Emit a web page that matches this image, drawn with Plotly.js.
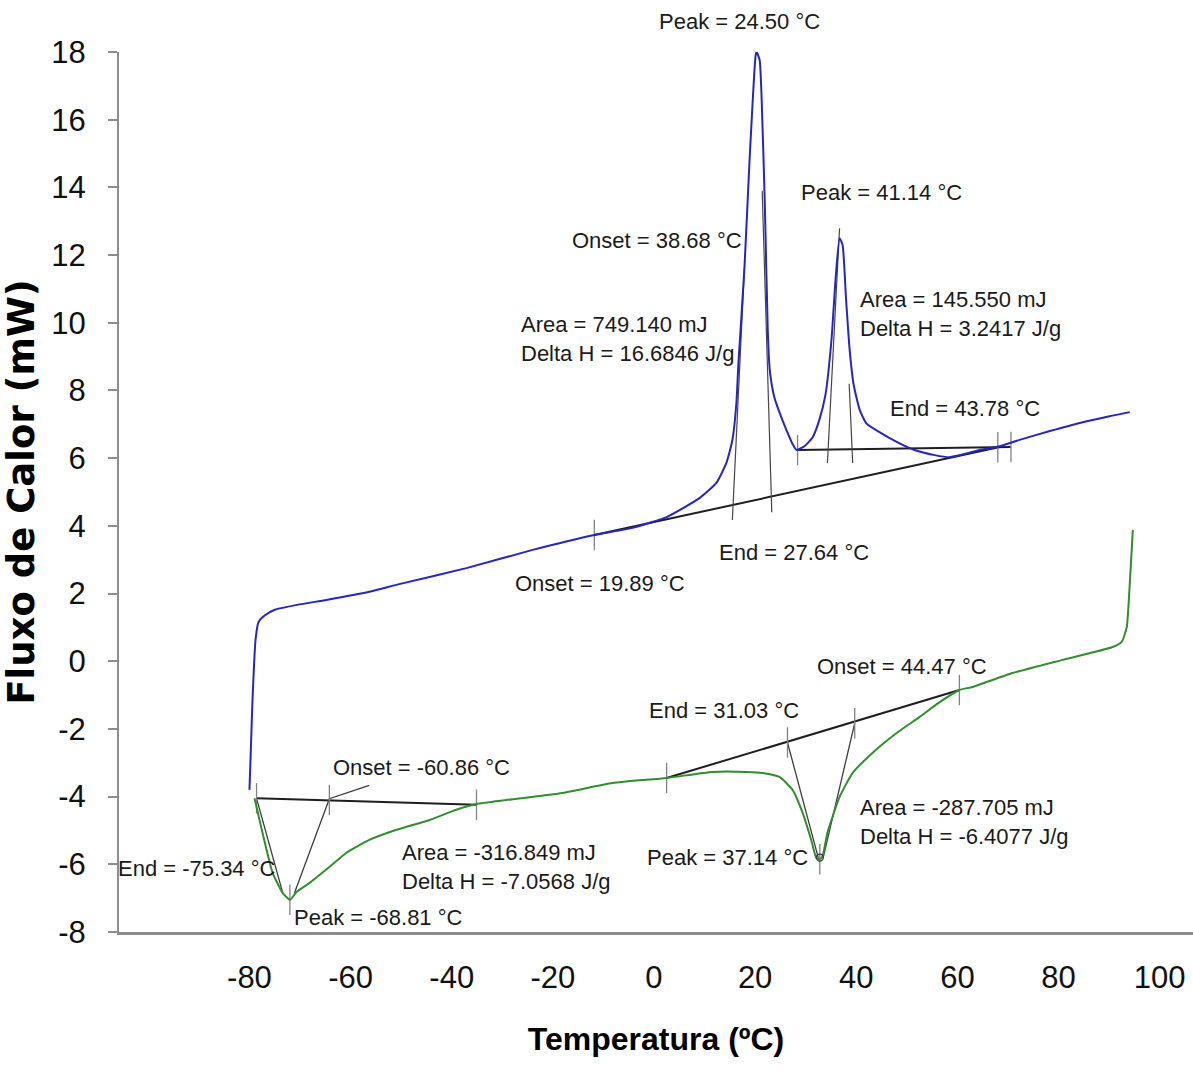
<!DOCTYPE html>
<html>
<head>
<meta charset="utf-8">
<script src="https://cdn.plot.ly/plotly-3.0.1.min.js"></script>
<style>
  html, body { margin: 0; padding: 0; background: #fff; }
  #chart { width: 1193px; height: 1082px; }
</style>
</head>
<body>
<div id="chart"></div>
<script>
// ---------- Data ----------
// Heating curve (blue)
const blueT  = [-80.0, -79.8, -79.4, -78.8, -78.2, -77.0, -75.0, -70.1, -64.8, -56.3, -50.6, -37.1, -24.0, -11.8, -4.2, 2.5, 9.0, 12.3, 14.3, 15.5, 16.3, 16.7, 17.9, 18.9, 20.1, 20.3, 20.9, 21.3, 21.9, 22.5, 22.9, 23.8, 24.8, 26.2, 27.4, 28.2, 29.8, 31.4, 32.7, 33.9, 35.1, 35.9, 36.7, 37.3, 38.0, 38.7, 39.5, 40.7, 42.0, 44.6, 48.0, 51.5, 55.5, 58.5, 61.4, 64.4, 68.4, 72.3, 78.3, 84.2, 90.1, 94.1];
const blueHF = [-3.80, -2.94, -1.16, 0.63, 1.16, 1.35, 1.52, 1.68, 1.81, 2.05, 2.27, 2.75, 3.29, 3.73, 3.94, 4.26, 4.82, 5.26, 5.85, 6.53, 7.63, 8.80, 11.64, 14.80, 17.90, 18.00, 17.76, 16.58, 13.63, 9.78, 8.60, 7.80, 7.36, 6.83, 6.42, 6.24, 6.36, 6.62, 7.13, 7.86, 9.49, 11.26, 12.50, 12.30, 10.66, 9.20, 8.16, 7.42, 7.03, 6.77, 6.48, 6.24, 6.09, 6.03, 6.12, 6.24, 6.35, 6.54, 6.80, 7.04, 7.24, 7.36];

// Cooling curve (green)
const greenT  = [-79.0, -77.4, -75.4, -73.4, -72.0, -70.7, -68.1, -64.2, -60.8, -56.3, -50.9, -44.4, -39.1, -35.1, -29.2, -18.1, -8.2, 2.5, 11.5, 18.3, 21.5, 24.8, 27.4, 29.4, 31.1, 32.1, 32.8, 33.3, 34.3, 36.7, 39.3, 43.2, 48.0, 52.5, 56.5, 60.4, 63.0, 70.9, 80.8, 90.7, 92.5, 93.5, 94.1, 94.7];
const greenHF = [-4.05, -5.08, -6.26, -6.85, -7.05, -6.82, -6.55, -6.08, -5.66, -5.28, -4.98, -4.69, -4.39, -4.22, -4.10, -3.89, -3.60, -3.45, -3.27, -3.27, -3.30, -3.42, -3.80, -4.48, -5.28, -5.81, -5.85, -5.78, -5.07, -4.01, -3.30, -2.71, -2.12, -1.65, -1.21, -0.85, -0.76, -0.35, 0.04, 0.42, 0.57, 1.01, 2.31, 3.88];

// Construction lines (black) — baselines, tangents and partial-area lines
const blueBaseT  = [-11.8, 68.4, null, 28.4, 70.6];
const blueBaseHF = [3.73, 6.33, null, 6.24, 6.33];
const bluePartT  = [15.5, 17.9, null, 23.3, 21.4, null, 34.3, 36.7, null, 39.3, 38.6];
const bluePartHF = [4.17, 11.64, null, 4.40, 13.90, null, 5.86, 12.79, null, 5.86, 8.20];

const greenBaseT  = [-78.6, -35.1, null, 2.5, 60.4];
const greenBaseHF = [-4.05, -4.24, null, -3.45, -0.85];
const greenTanT   = [-78.6, -73.4, null, -71.1, -64.2, -56.3, null, 26.4, 32.5, null, 39.7, 33.5];
const greenTanHF  = [-4.05, -6.85, null, -6.85, -4.06, -3.67, null, -2.40, -5.81, null, -1.83, -5.78];

// Small vertical marker ticks on the construction lines
const tickT  = [-11.8, 28.4, 68.0, 70.6, -78.6, -64.2, -35.1, -72.0, 2.5, 26.4, 39.7, 60.4, 32.8];
const tickHF = [3.73, 6.24, 6.32, 6.33, -4.05, -4.10, -4.24, -7.05, -3.45, -2.40, -1.83, -0.85, -5.85];

// Peak marker (green minimum)
const peakMarkT = [32.8];
const peakMarkHF = [-5.80];

// Text labels
const labelText = [
  "Peak = 24.50 °C", "Peak = 41.14 °C", "Onset = 38.68 °C",
  "Area = 145.550 mJ<br>Delta H = 3.2417 J/g",
  "Area = 749.140 mJ<br>Delta H = 16.6846 J/g",
  "End = 43.78 °C", "End = 27.64 °C", "Onset = 19.89 °C",
  "Onset = 44.47 °C", "End = 31.03 °C", "Onset = -60.86 °C",
  "Area = -316.849 mJ<br>Delta H = -7.0568 J/g",
  "Area = -287.705 mJ<br>Delta H = -6.4077 J/g",
  "Peak = 37.14 °C", "End = -75.34 °C", "Peak = -68.81 °C"
];
const labelT  = [16.9, 45.0, 0.5, 40.3, -26.6, 61.6, 27.6, -10.6, 49.1, 13.8, -46.0, -50.3, 40.3, 14.5, -90.4, -54.4];
const labelHF = [18.89, 13.86, 12.44, 10.25, 9.52, 7.47, 3.20, 2.31, -0.15, -1.47, -3.15, -6.08, -4.75, -5.81, -6.11, -7.58];
const labelAlign = ["center","center","center","left","left","center","center","center","center","center","center","left","left","center","center","center"];

const xTicks = [-80, -60, -40, -20, 0, 20, 40, 60, 80, 100];
const yTicks = [-8, -6, -4, -2, 0, 2, 4, 6, 8, 10, 12, 14, 16, 18];
const yRange = [-8, 18];

// ---------- Build traces ----------
const TICK_HALF = 0.45;
const tickSegT = [], tickSegHF = [];
tickT.forEach((t, i) => {
  tickSegT.push(t, t, null);
  tickSegHF.push(tickHF[i] - TICK_HALF, tickHF[i] + TICK_HALF, null);
});

const BLUE = "rgb(38,38,190)";
const GREEN = "rgb(52,140,48)";
const BLACK = "rgb(30,30,30)";

const traces = [
  { x: blueBaseT, y: blueBaseHF, mode: "lines", line: {color: BLACK, width: 2}, hoverinfo: "skip" },
  { x: bluePartT, y: bluePartHF, mode: "lines", line: {color: "rgb(70,70,70)", width: 1.2}, hoverinfo: "skip" },
  { x: greenBaseT, y: greenBaseHF, mode: "lines", line: {color: BLACK, width: 2}, hoverinfo: "skip" },
  { x: greenTanT, y: greenTanHF, mode: "lines", line: {color: "rgb(60,60,60)", width: 1.3}, hoverinfo: "skip" },
  { x: tickSegT, y: tickSegHF, mode: "lines", line: {color: "rgb(130,130,130)", width: 1.3}, hoverinfo: "skip" },
  { x: blueT, y: blueHF, mode: "lines", name: "Aquecimento", line: {color: BLUE, width: 2, shape: "spline", smoothing: 0.5}, cliponaxis: false },
  { x: greenT, y: greenHF, mode: "lines", name: "Resfriamento", line: {color: GREEN, width: 2, shape: "spline", smoothing: 0.5}, cliponaxis: false },
  { x: peakMarkT, y: peakMarkHF, mode: "markers", marker: {symbol: "circle-open", size: 7, color: "rgb(60,60,60)", line: {width: 1.3}}, hoverinfo: "skip" }
];

const FONT = "'Liberation Sans', Arial, sans-serif";
const annFont = {family: FONT, size: 22, color: "#1a1a1a"};
const annotations = labelText.map((txt, i) => {
  const outside = labelHF[i] > yRange[1];
  return {
    x: labelT[i], xref: "x",
    // labels above the plot area are placed in paper coordinates so they stay visible
    y: outside ? (labelHF[i] - yRange[0]) / (yRange[1] - yRange[0]) : labelHF[i],
    yref: outside ? "paper" : "y",
    text: txt, showarrow: false, font: annFont,
    xanchor: labelAlign[i] === "left" ? "left" : "center",
    yanchor: "middle", align: labelAlign[i]
  };
});

const tickFont = {family: FONT, size: 31, color: "#111"};

const layout = {
  width: 1193, height: 1082,
  margin: {l: 119, r: 0, t: 52, b: 150},
  paper_bgcolor: "#fff", plot_bgcolor: "#fff",
  showlegend: false,
  xaxis: {
    range: [-105.8, 106.6],
    tickvals: xTicks, ticktext: xTicks.map(String),
    ticks: "", ticklabelstandoff: 16,
    showgrid: false, zeroline: false,
    showline: true, linecolor: "rgb(140,140,140)", linewidth: 3,
    tickfont: tickFont,
    title: {text: "Temperatura (ºC)", standoff: 34,
            font: {family: FONT, size: 32, color: "#000", weight: "bold"}}
  },
  yaxis: {
    range: yRange,
    tickvals: yTicks, ticktext: yTicks.map(String),
    ticks: "outside", ticklen: 9, tickwidth: 2, tickcolor: "rgb(140,140,140)",
    ticklabelstandoff: 16,
    showgrid: false, zeroline: false,
    showline: true, linecolor: "rgb(140,140,140)", linewidth: 2,
    tickfont: tickFont,
    title: {text: "Fluxo de Calor (mW)", standoff: 18,
            font: {family: "'DejaVu Sans', sans-serif", size: 37, color: "#000", weight: "bold"}}
  },
  annotations: annotations
};

Plotly.newPlot("chart", traces, layout, {staticPlot: true, displayModeBar: false});
</script>
</body>
</html>
